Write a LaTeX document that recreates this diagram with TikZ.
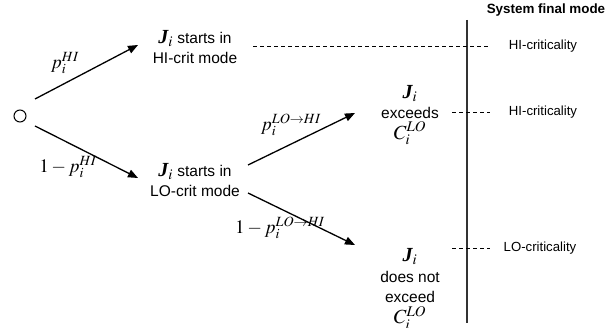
\documentclass[tikz,border=0pt]{standalone}
\usepackage{mathptmx}
\usepackage[no-math]{fontspec}
\setmainfont{Liberation Sans}
\newfontfamily\serifJ{Liberation Serif}
\usetikzlibrary{arrows.meta}
\newcommand{\Jvar}{{\fontsize{20}{20}\selectfont{\serifJ\bfseries\itshape J}$_i$}}
\newcommand{\Cvar}{{\fontsize{20}{20}\selectfont$C_i^{LO}$}}
\newcommand{\nodefont}{\fontsize{15.5}{20.5}\selectfont\lineskiplimit-50pt\relax}
\begin{document}
\begin{tikzpicture}[x=1pt,y=-1pt,
  arr/.style={line width=1.3pt,-{Triangle[length=10pt,width=8pt]}},
  dsh/.style={line width=0.9pt,dash pattern=on 4pt off 3pt},
  txt/.style={font=\nodefont,align=center,inner sep=0pt},
  lab/.style={font=\fontsize{19}{22}\selectfont,inner sep=0pt},
  mode/.style={font=\fontsize{13.2}{15}\selectfont,inner sep=0pt}]
\useasboundingbox (0,0) rectangle (613,328);
\node[draw,circle,line width=1pt,minimum size=12pt,inner sep=0pt] (o) at (20,116) {};
\node[txt] (n1) at (195,47) {\Jvar\ starts in\\HI-crit mode};
\node[txt] (n2) at (195,180) {\Jvar\ starts in\\LO-crit mode};
\node[txt] (n3) at (410,115) {\Jvar\\exceeds\\\Cvar};
\node[txt] (n4) at (410,289) {\Jvar\\does not\\exceed\\\Cvar};
\coordinate (a1s) at (35,99); \coordinate (a1e) at (138,45);
\coordinate (a2s) at (35,126); \coordinate (a2e) at (138,178);
\coordinate (a3s) at (248,165); \coordinate (a3e) at (355,113);
\coordinate (a4s) at (248,193); \coordinate (a4e) at (355,245);
\draw[arr] (a1s) -- (a1e);
\draw[arr] (a2s) -- (a2e);
\draw[arr] (a3s) -- (a3e);
\draw[arr] (a4s) -- (a4e);
\node[lab] (l1) at (65,63) {$p_i^{HI}$};
\node[lab] (l2) at (68,167) {$1 - p_i^{HI}$};
\node[lab] (l3) at (291,125) {$p_i^{LO\rightarrow HI}$};
\node[lab] (l4) at (280,228) {$1 - p_i^{LO\rightarrow HI}$};
\coordinate (v1) at (467,20); \coordinate (v2) at (467,323);
\draw[line width=1.5pt,black!80] (v1) -- (v2);
\node[font=\fontsize{13.4}{15}\selectfont\bfseries,inner sep=0pt] (title) at (546,10) {System final mode};
\node[mode] (m1) at (543,46) {HI-criticality};
\node[mode] (m2) at (543,112) {HI-criticality};
\node[mode] (m3) at (540,248) {LO-criticality};
\coordinate (d1s) at (253,46); \coordinate (d1e) at (490,46);
\coordinate (d2s) at (452,112); \coordinate (d2e) at (490,112);
\coordinate (d3s) at (452,248); \coordinate (d3e) at (490,248);
\draw[dsh] (d1s) -- (d1e);
\draw[dsh] (d2s) -- (d2e);
\draw[dsh] (d3s) -- (d3e);
\end{tikzpicture}
\end{document}
